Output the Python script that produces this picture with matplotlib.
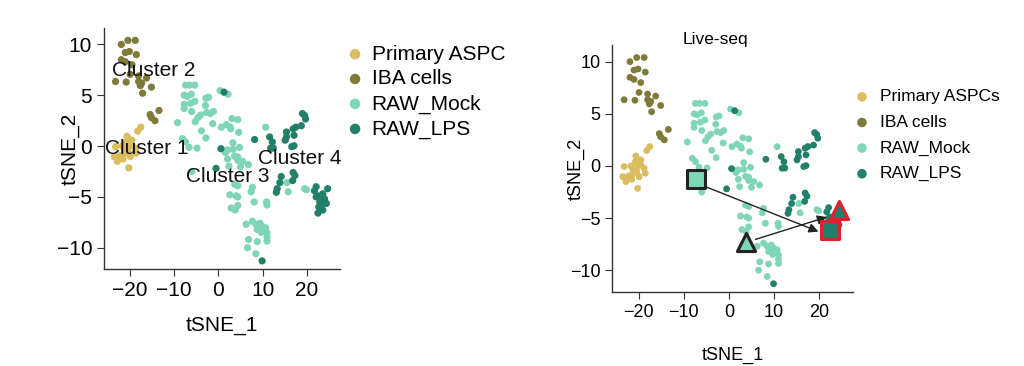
import matplotlib
matplotlib.use("Agg")
import matplotlib.pyplot as plt
import numpy as np

plt.rcParams['font.family'] = ['Liberation Sans', 'DejaVu Sans']

# ---------------- data (tSNE coordinates) ----------------
aspc_x = [-17.5, -18.2, -20.6, -19.5, -20.7, -23.2, -21.7, -20.2, -19.5, -18.75,
          -21.2, -20.4, -23.5, -22.2, -21.3, -19.85, -18.5, -22.8, -20.2, -21.5]
aspc_y = [1.86, 1.47, 0.96, 0.58, 0.42, -0.06, 0.0, -0.06, 0.1, -0.22,
          -0.38, -0.54, -1.03, -0.96, -0.77, -1.03, -0.7, -1.5, -2.15, -1.28]

iba_x = [-21.9, -20.4, -18.75, -21.0, -20.1, -18.5, -21.9, -21.0, -19.5, -19.9,
         -18.0, -16.2, -23.2, -20.8, -18.0, -17.3, -17.6, -15.1, -17.1, -15.4,
         -13.4, -15.1, -14.3]
iba_y = [10.0, 10.4, 10.4, 9.2, 9.3, 9.0, 8.5, 8.3, 8.0, 7.05,
         6.9, 6.7, 6.35, 6.3, 6.35, 6.2, 5.95, 5.8, 5.2, 3.1,
         3.5, 2.8, 2.5]

mock_x = [-7.4, -6.5, -5.3, -7.7, -7.0, -6.1, -2.2, -2.8, -5.3, -6.3,
          -7.7, -7.7, -2.9, -6.0, -4.0, -4.6, -5.2, -2.6, -1.1, -1.8,
          -9.2, -1.25, -3.8, -2.8, -8.1, -7.4, -4.8, -6.6, -6.0,
          0.4, 2.2, 3.1, 4.4, 0.7, 1.8, 2.6, 2.8, 4.6, 10.7,
          3.3, 4.8, 3.3, 2.1, 1.5, 2.1, 4.4, 4.4, 5.5, 6.8, 2.4, 5.0, 1.6, 3.7,
          3.7, 4.4, 7.7, 7.4, 2.6, 4.0, 4.4, 8.1, 10.9, 11.0, 4.4, 2.9, 3.8,
          6.3, 7.7, 8.5, 9.4, 9.9, 10.7, 8.8, 9.7, 11.0, 11.0, 11.0, 6.85, 8.8,
          6.6, 8.5, 15.5, 15.8, 19.5, 19.9]
mock_y = [6.0, 6.0, 6.0, 5.0, 4.9, 5.1, 4.8, 4.7, 4.4, 4.2,
          4.1, 3.7, 4.0, 3.4, 3.05, 2.8, 2.4, 3.3, 3.4, 3.2,
          2.3, 2.2, 1.5, 0.8, 0.74, 0.41, -0.2, -0.13, -2.5,
          5.45, 5.1, 2.7, 2.6, 1.85, 2.1, 1.9, 1.7, 1.35, 1.85,
          0.32, -0.13, -0.32, -0.38, -0.45, -1.28, -1.09, -1.41, -1.5, -1.83, -1.99, -2.05, -0.64, -1.0,
          -3.75, -3.9, -4.07, -4.5, -4.8, -4.9, -5.0, -5.5, -5.5, -5.8, -5.85, -6.1, -6.3,
          -7.7, -7.4, -7.7, -7.6, -7.9, -8.05, -8.2, -8.5, -8.55, -8.97, -9.35, -9.2, -9.4,
          -10.0, -10.6, -3.6, -4.5, -4.2, -4.3]

lps_x = [1.3, 8.2, 11.6, 12.2, 12.4, 11.8, 15.4, 15.4, 15.1, 16.9,
         17.5, 18.75, 17.1, 16.6, 17.1, 19.0, 19.5, 19.7, 0.6, -0.5,
         14.2, 13.9, 13.3, 13.1, 16.9, 17.3, 16.8,
         21.7, 22.5, 23.6, 22.1, 24.7, 23.6, 22.1, 24.0, 22.9, 24.4, 22.7, 23.6, 22.5, 23.3,
         9.9]
lps_y = [5.3, 0.64, 0.9, 0.4, -0.2, -0.22, 1.38, 0.9, 0.58, 1.7,
         1.86, 2.0, 1.06, -0.06, 0.03, 3.2, 3.0, 2.66, -0.26, -2.2,
         -3.0, -3.6, -4.2, -4.55, -2.6, -2.9, -3.4,
         -4.4, -4.9, -5.2, -4.0, -4.2, -4.7, -5.0, -5.2, -5.5, -5.65, -6.0, -6.3, -6.6, -5.8,
         -11.3]

groups_left = ["Primary ASPC", "IBA cells", "RAW_Mock", "RAW_LPS"]
groups_right = ["Primary ASPCs", "IBA cells", "RAW_Mock", "RAW_LPS"]
colors = ["#D9BD5E", "#7F7A3A", "#7ED6B6", "#22806A"]
series = [(aspc_x, aspc_y), (iba_x, iba_y), (mock_x, mock_y), (lps_x, lps_y)]

cluster_labels = ["Cluster 1", "Cluster 2", "Cluster 3", "Cluster 4"]
cluster_x = [-16.1, -14.5, 2.2, 18.4]
cluster_y = [-0.2, 7.4, -3.0, -1.2]

# Live-seq cells: before (black edge) and after (red edge)
mock_before = (-7.35, -1.28)
mock_after = (3.7, -7.3)
lps_sq = (22.4, -6.1)
lps_tri = (24.4, -4.2)
arrow1 = ((-5.1, -2.0), (19.85, -6.3))
arrow2 = ((5.9, -7.05), (21.7, -4.9))

xticks = [-20, -10, 0, 10, 20]
yticks = [-10, -5, 0, 5, 10]

fig = plt.figure(figsize=(10.24, 3.66), dpi=100)
axL = fig.add_axes([0.1016, 0.265, 0.2305, 0.658])
axR = fig.add_axes([0.598, 0.202, 0.235, 0.675])


def style(ax, fs, xlab_y, ylab_x):
    for s in ["top", "right"]:
        ax.spines[s].set_visible(False)
    for s in ["left", "bottom"]:
        ax.spines[s].set_color("#333333")
        ax.spines[s].set_linewidth(1.0)
    ax.set_xlim(-25.8, 27.5)
    ax.set_ylim(-12.1, 11.6)
    ax.set_xticks(xticks)
    ax.set_yticks(yticks)
    ax.tick_params(labelsize=fs, length=5, color="#333333", direction="out")
    ax.set_xlabel("tSNE_1", fontsize=fs)
    ax.set_ylabel("tSNE_2", fontsize=fs)
    ax.xaxis.set_label_coords(0.5, xlab_y)
    ax.yaxis.set_label_coords(ylab_x, 0.5)


for (x, y), c, lab in zip(series, colors, groups_left):
    axL.scatter(x, y, s=27, color=c, edgecolors="none", label=lab, zorder=2)
for t, x, y in zip(cluster_labels, cluster_x, cluster_y):
    axL.text(x, y, t, fontsize=15, ha="center", va="center", color="#111111", zorder=3)
style(axL, 15, -0.195, -0.105)
axL.legend(loc="upper left", bbox_to_anchor=(0.3386, 0.878), bbox_transform=fig.transFigure,
           frameon=False, fontsize=15, handlelength=0.8, handletextpad=0.4,
           labelspacing=0.28, borderaxespad=0, borderpad=0, markerscale=1.45)

for (x, y), c, lab in zip(series, colors, groups_right):
    axR.scatter(x, y, s=24, color=c, edgecolors="none", label=lab, zorder=2)
style(axR, 13, -0.222, -0.115)
axR.legend(loc="upper left", bbox_to_anchor=(0.835, 0.756), bbox_transform=fig.transFigure,
           frameon=False, fontsize=12.5, handlelength=0.8, handletextpad=0.63,
           labelspacing=0.6, borderaxespad=0, borderpad=0, markerscale=1.4)
axR.text(0.43, 0.99, "Live-seq", transform=axR.transAxes, fontsize=12.5, ha="center", va="bottom")

for (s, e) in [arrow1, arrow2]:
    axR.annotate("", xy=e, xytext=s,
                 arrowprops=dict(arrowstyle="-|>", color="#222222", lw=1.0,
                                 mutation_scale=14, shrinkA=0, shrinkB=0), zorder=4)

axR.scatter([mock_before[0]], [mock_before[1]], marker="s", s=150, color=colors[2],
            edgecolors="#222222", linewidths=2.2, zorder=5)
axR.scatter([mock_after[0]], [mock_after[1]], marker="^", s=170, color=colors[2],
            edgecolors="#222222", linewidths=2.2, zorder=5)
axR.scatter([lps_sq[0]], [lps_sq[1]], marker="s", s=150, color=colors[3],
            edgecolors="#E0202A", linewidths=2.2, zorder=5)
axR.scatter([lps_tri[0]], [lps_tri[1]], marker="^", s=170, color=colors[3],
            edgecolors="#E0202A", linewidths=2.2, zorder=5)

fig.savefig("out.png", dpi=100)
